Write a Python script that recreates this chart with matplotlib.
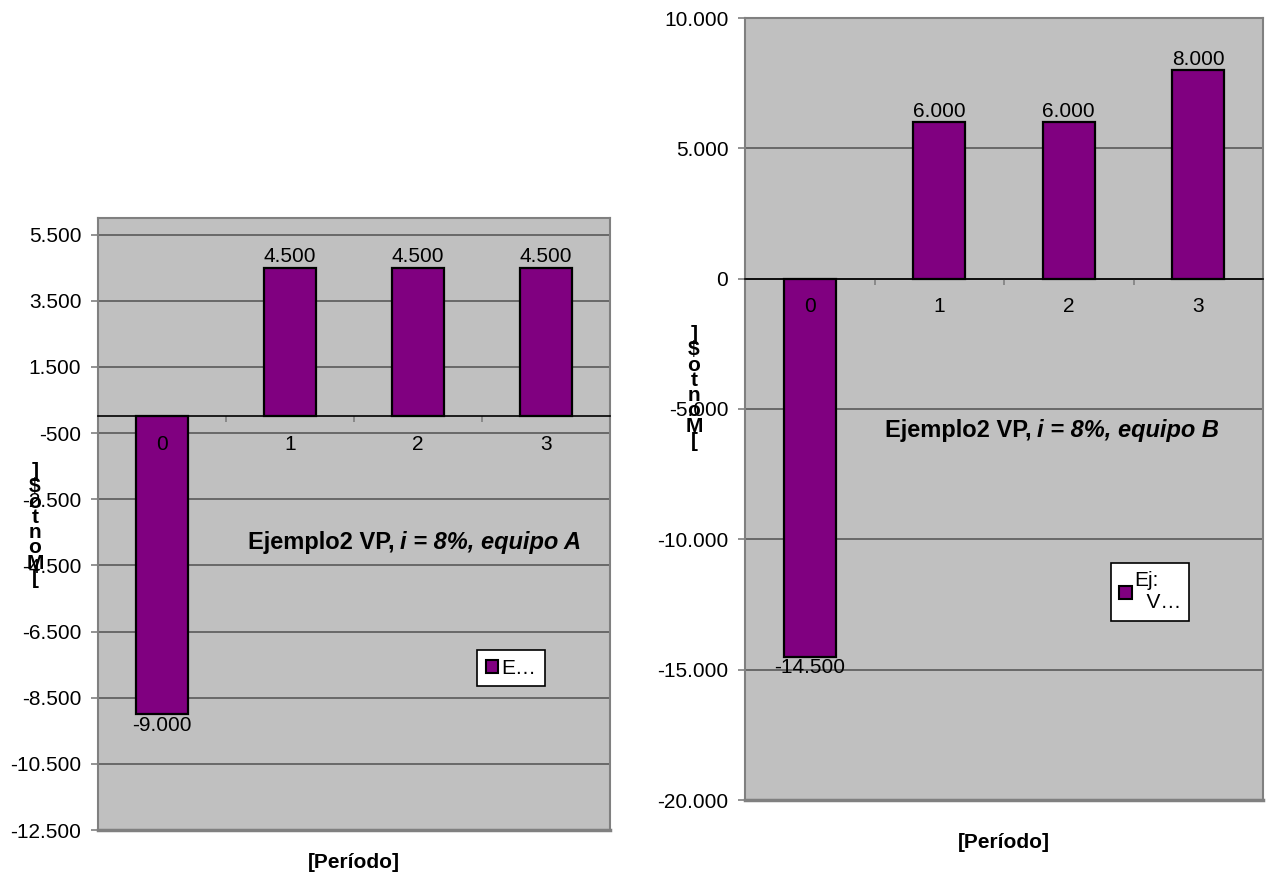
import matplotlib
matplotlib.use("Agg")
import matplotlib.pyplot as plt
from matplotlib.patches import Patch
from matplotlib.ticker import FuncFormatter, FixedLocator

plt.rcParams['font.family'] = ['Liberation Sans', 'DejaVu Sans']

# flujos de caja por periodo
periodos = ["0", "1", "2", "3"]
flujo_a = [-9000, 4500, 4500, 4500]
flujo_b = [-14500, 6000, 6000, 8000]

ticks_a = [-12500, -10500, -8500, -6500, -4500, -2500, -500, 1500, 3500, 5500]
ticks_b = [-20000, -15000, -10000, -5000, 0, 5000, 10000]

PURPLE = '#800080'
PLOT_BG = '#C0C0C0'
FS = 15
FS_TITLE = 17


def miles(v, pos=None):
    return f"{v:,.0f}".replace(",", ".")


def draw_chart(ax, values, yticks, ylim, leg_label, leg_anchor):
    x = list(range(len(values)))
    ax.set_facecolor(PLOT_BG)
    ax.set_xlim(-0.5, len(values) - 0.5)
    ax.set_ylim(*ylim)

    # grid behind the bars
    for t in yticks:
        ax.axhline(t, color='#505050', lw=1.1, zorder=0.5)

    bars = ax.bar(x, values, width=0.4, color=PURPLE, edgecolor='black',
                  linewidth=1.6, zorder=2)

    for xi, v in zip(x, values):
        off = 1 if v > 0 else -1
        ax.annotate(miles(v), xy=(xi, v), xytext=(0, off), textcoords='offset points',
                    ha='center', va='bottom' if v > 0 else 'top', fontsize=FS, zorder=4)

    # category labels sit under the zero line
    for xi, lab in zip(x, periodos):
        ax.annotate(lab, xy=(xi, 0), xytext=(0, -20), textcoords='offset points',
                    ha='center', va='center', fontsize=FS, zorder=4)

    ax.yaxis.set_major_locator(FixedLocator(yticks))
    ax.yaxis.set_major_formatter(FuncFormatter(miles))
    ax.tick_params(axis='y', direction='out', length=5, width=1.2, color='#808080',
                   pad=7, labelsize=FS)

    # x axis on the zero line, ticks between categories
    ax.spines['bottom'].set_position(('data', 0))
    ax.spines['bottom'].set_color('black')
    ax.spines['bottom'].set_linewidth(1.2)
    ax.set_xticks([i - 0.5 for i in range(len(values) + 1)])
    ax.set_xticklabels([])
    ax.tick_params(axis='x', direction='out', length=4, width=1.2, color='#808080')

    for s in ['top', 'left', 'right']:
        ax.spines[s].set_color('#808080')
        ax.spines[s].set_linewidth(1.5)
    ax.axhline(ylim[0], color='#808080', lw=2.5, zorder=3, clip_on=False)

    handle = Patch(facecolor=PURPLE, edgecolor='black', linewidth=1.5)
    leg = ax.legend([handle], [leg_label], loc='center', bbox_to_anchor=leg_anchor,
                    bbox_transform=ax.figure.transFigure, fontsize=FS, frameon=True,
                    fancybox=False, edgecolor='black', framealpha=1,
                    handlelength=0.6, handleheight=0.6, handletextpad=0.15,
                    borderpad=0.4, borderaxespad=0)
    leg.get_frame().set_linewidth(1.2)
    return bars


W, H = 1266, 875
fig = plt.figure(figsize=(W / 100, H / 100), dpi=100)


def px(x0, y0, x1, y1):
    return [x0 / W, 1 - y1 / H, (x1 - x0) / W, (y1 - y0) / H]


ax_a = fig.add_axes(px(98, 218, 610, 830))
ax_b = fig.add_axes(px(745, 18, 1263, 800))

draw_chart(ax_a, flujo_a, ticks_a, (-12500, 6000), "E…", (511 / W, 1 - 668 / H))
draw_chart(ax_b, flujo_b, ticks_b, (-20000, 10000), "Ej:\n  V…", (1150 / W, 1 - 592 / H))

# chart titles: plain part + italic part
fig.text(395 / W, 1 - 549 / H, "Ejemplo2 VP,", ha='right', va='baseline',
         fontsize=FS_TITLE, fontweight='bold')
fig.text(400 / W, 1 - 549 / H, "i = 8%, equipo A", ha='left', va='baseline',
         fontsize=FS_TITLE, fontweight='bold', style='italic')
fig.text(1032 / W, 1 - 437 / H, "Ejemplo2 VP,", ha='right', va='baseline',
         fontsize=FS_TITLE, fontweight='bold')
fig.text(1037 / W, 1 - 437 / H, "i = 8%, equipo B", ha='left', va='baseline',
         fontsize=FS_TITLE, fontweight='bold', style='italic')

# axis titles
fig.text(354 / W, 1 - 862 / H, "[Período]", ha='center', va='center',
         fontsize=FS, fontweight='bold')
fig.text(1004 / W, 1 - 842 / H, "[Período]", ha='center', va='center',
         fontsize=FS, fontweight='bold')

stacked = "\n".join(reversed(list("[Monto$]")))
fig.text(35 / W, 1 - 525 / H, stacked, ha='center', va='center', fontsize=FS,
         fontweight='bold', linespacing=0.75)
fig.text(694 / W, 1 - 388 / H, stacked, ha='center', va='center', fontsize=FS,
         fontweight='bold', linespacing=0.75)

fig.savefig("out.png", dpi=100, facecolor='white')
